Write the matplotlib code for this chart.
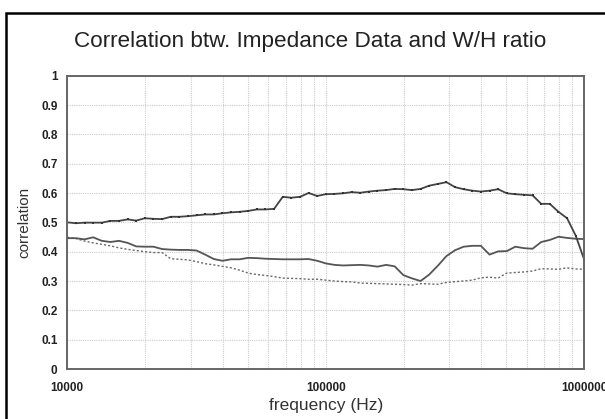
import matplotlib
matplotlib.use("Agg")
import matplotlib.pyplot as plt
from matplotlib.patches import Rectangle
from matplotlib.ticker import LogLocator, FixedLocator, NullFormatter

plt.rcParams['font.family'] = ['Liberation Sans', 'DejaVu Sans']

freq_hz = [10000, 10797, 11659, 12589, 13594, 14678, 15849, 17113, 18478, 19953,
           21544, 23263, 25119, 27123, 29286, 31623, 34145, 36869, 39811, 42987,
           46416, 50119, 54117, 58434, 63096, 68129, 73564, 79433, 85770, 92612,
           100000, 107977, 116591, 125893, 135936, 146780, 158489, 171133, 184785, 199526,
           215443, 232631, 251189, 271227, 292864, 316228, 341455, 368695, 398107, 429866,
           464159, 501187, 541170, 584341, 630957, 681292, 735642, 794328, 857696, 926119,
           1000000]

corr_marked = [0.500, 0.497, 0.499, 0.499, 0.499, 0.505, 0.505, 0.510, 0.506, 0.514,
               0.512, 0.511, 0.519, 0.519, 0.521, 0.524, 0.527, 0.527, 0.531, 0.534,
               0.536, 0.539, 0.544, 0.544, 0.546, 0.587, 0.584, 0.587, 0.600, 0.590,
               0.596, 0.597, 0.599, 0.603, 0.601, 0.605, 0.608, 0.610, 0.614, 0.613,
               0.610, 0.614, 0.625, 0.631, 0.637, 0.620, 0.613, 0.608, 0.605, 0.608,
               0.613, 0.599, 0.596, 0.594, 0.592, 0.563, 0.563, 0.536, 0.514, 0.455,
               0.372]

corr_solid = [0.446, 0.446, 0.442, 0.449, 0.437, 0.433, 0.437, 0.430, 0.418, 0.417,
              0.417, 0.409, 0.407, 0.406, 0.406, 0.404, 0.390, 0.375, 0.369, 0.374,
              0.374, 0.379, 0.378, 0.376, 0.375, 0.374, 0.374, 0.374, 0.375, 0.369,
              0.360, 0.355, 0.353, 0.354, 0.355, 0.353, 0.349, 0.355, 0.350, 0.320,
              0.309, 0.300, 0.322, 0.352, 0.385, 0.405, 0.417, 0.420, 0.420, 0.390,
              0.401, 0.402, 0.417, 0.412, 0.410, 0.433, 0.440, 0.451, 0.447, 0.444,
              0.443]

corr_dotted = [0.449, 0.445, 0.436, 0.430, 0.425, 0.420, 0.413, 0.408, 0.404, 0.400,
               0.397, 0.397, 0.376, 0.374, 0.372, 0.366, 0.359, 0.355, 0.350, 0.345,
               0.337, 0.327, 0.322, 0.319, 0.315, 0.310, 0.309, 0.308, 0.306, 0.306,
               0.303, 0.300, 0.298, 0.297, 0.293, 0.292, 0.291, 0.290, 0.289, 0.288,
               0.286, 0.291, 0.290, 0.289, 0.295, 0.298, 0.300, 0.303, 0.311, 0.313,
               0.310, 0.327, 0.329, 0.331, 0.334, 0.342, 0.341, 0.340, 0.345, 0.341,
               0.340]

x_ticks = [10000, 100000, 1000000]
x_tick_labels = ["10000", "100000", "1000000"]
y_ticks = [0, 0.1, 0.2, 0.3, 0.4, 0.5, 0.6, 0.7, 0.8, 0.9, 1]
y_tick_labels = ["0", "0.1", "0.2", "0.3", "0.4", "0.5", "0.6", "0.7", "0.8", "0.9", "1"]

W, H = 605, 419
fig = plt.figure(figsize=(W / 100, H / 100), dpi=100)
fig.patch.set_facecolor('white')

# outer frame (extends beyond the right and bottom edges)
fig.patches.append(Rectangle((5.8 / W, -0.1), 1.2, 1.1 - 12.7 / H,
                             transform=fig.transFigure, fill=False,
                             edgecolor='black', linewidth=1.8))

ax = fig.add_axes([67.3 / W, 1 - 369 / H, 517 / W, 293.3 / H])
ax.set_xscale('log')
ax.set_xlim(1e4, 1e6)
ax.set_ylim(0, 1)

ax.xaxis.set_major_locator(FixedLocator(x_ticks))
ax.set_xticklabels(x_tick_labels)
ax.xaxis.set_minor_locator(LogLocator(base=10, subs=range(2, 10)))
ax.xaxis.set_minor_formatter(NullFormatter())
ax.set_yticks(y_ticks)
ax.set_yticklabels(y_tick_labels)

ax.grid(True, which='both', axis='x', color='#cccccc', linestyle=(0, (1, 1)), linewidth=0.8)
ax.grid(True, which='major', axis='y', color='#cccccc', linestyle=(0, (1, 1)), linewidth=0.8)
ax.set_axisbelow(True)

ax.tick_params(axis='both', which='both', length=0)
ax.tick_params(axis='y', pad=7, labelsize=8.5, labelcolor='#222222')
ax.tick_params(axis='x', pad=9, labelsize=8.5, labelcolor='#222222')
for lbl in ax.get_xticklabels() + ax.get_yticklabels():
    lbl.set_fontweight('bold')

for s in ax.spines.values():
    s.set_color('#666666')
    s.set_linewidth(1.4)

ax.plot(freq_hz, corr_dotted, color='#6a6a6a', linestyle=(0, (1.5, 1.5)), linewidth=1.0)
ax.plot(freq_hz, corr_solid, color='#555555', linestyle='-', linewidth=1.3)
ax.plot(freq_hz, corr_marked, color='#444444', linestyle='-', linewidth=1.3,
        marker='s', markersize=2.1, markerfacecolor='#333333', markeredgewidth=0)

ax.set_xlabel('frequency (Hz)', fontsize=12.5, color='#333333', labelpad=3)
ax.set_ylabel('correlation', fontsize=11, color='#333333', labelpad=7)

fig.text(310 / W, 1 - 42 / H, 'Correlation btw. Impedance Data and W/H ratio',
         ha='center', va='center', fontsize=16.2, color='#222222')

fig.savefig('out.png', dpi=100)
